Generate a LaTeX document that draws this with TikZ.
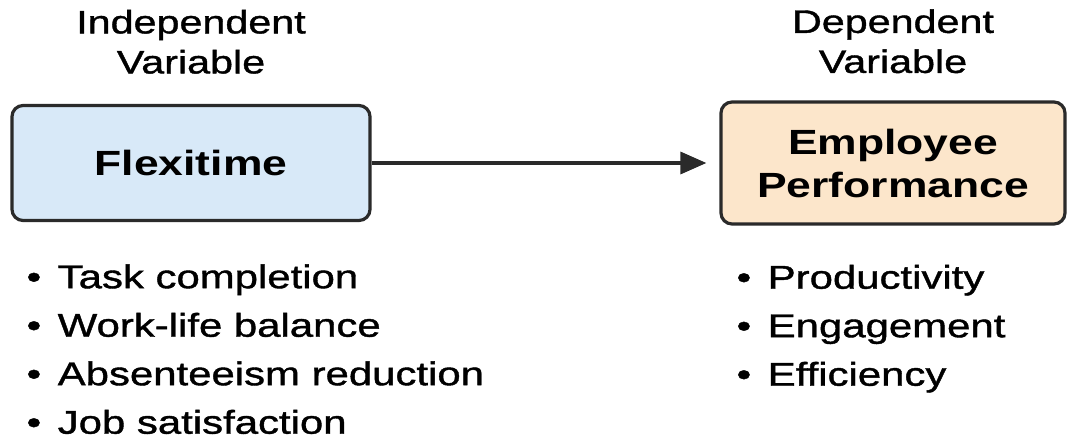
\documentclass[tikz,border=0pt]{standalone}
\usepackage{fontspec}
\setmainfont{Liberation Sans}[FakeStretch=1.27,UprightFeatures={FakeBold=1.2}]
\usepackage{tikz}
\usetikzlibrary{arrows.meta,positioning}
\definecolor{BoxBlue}{HTML}{D8E9F8}
\definecolor{BoxPeach}{HTML}{FCE6CB}
\definecolor{EdgeGray}{HTML}{2A2A2A}
\newcommand{\itm}{\textbullet\hspace{0.5em}}

\begin{document}
\begin{tikzpicture}[x=1pt,y=-1pt,
  box/.style={draw=EdgeGray,line width=3.2pt,rounded corners=11pt,align=center,inner sep=0pt,font=\fontsize{35}{43}\selectfont\bfseries},
  head/.style={align=center,inner sep=0pt,font=\fontsize{32.5}{40}\selectfont},
  items/.style={align=left,inner sep=0pt,font=\fontsize{33}{48.5}\selectfont},
  arr/.style={-{Triangle[length=26pt,width=22pt]},line width=3.4pt,draw=EdgeGray}]
\useasboundingbox (0,0) rectangle (1068,442);
\node[box,fill=BoxBlue,minimum width=358pt,minimum height=115pt] (flex) at (191,163) {Flexitime};
\node[box,fill=BoxPeach,minimum width=344pt,minimum height=122pt] (perf) at (893,163) {Employee\\Performance};
\node[head,above=30pt of flex] (indep) {Independent\\Variable};
\node[head,above=27pt of perf] (dep) {Dependent\\Variable};
\node[items,below right=42pt and 16pt of flex.south west] (flexlist) {\itm Task completion\\\itm Work-life balance\\\itm Absenteeism reduction\\\itm Job satisfaction};
\node[items,below right=39pt and 17pt of perf.south west] (perflist) {\itm Productivity\\\itm Engagement\\\itm Efficiency};
\draw[arr,shorten >=13pt] (flex) -- (perf);
\end{tikzpicture}
\end{document}
